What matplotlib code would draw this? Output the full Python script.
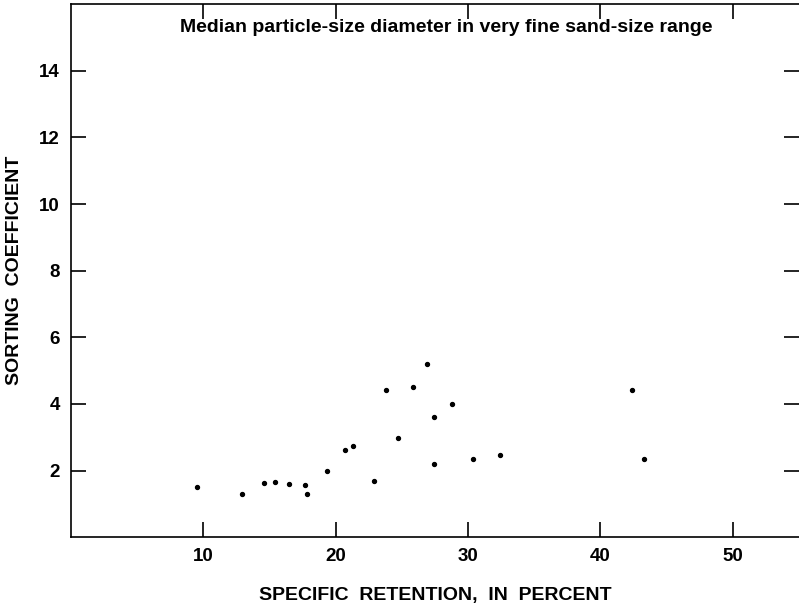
import matplotlib.pyplot as plt

# specific retention (percent) vs sorting coefficient
retention = [9.5, 12.9, 14.6, 15.4, 16.5, 17.7, 17.8, 19.3, 20.7, 21.3,
             22.9, 23.8, 24.7, 25.8, 26.9, 27.4, 27.4, 28.8, 30.4, 32.4,
             42.4, 43.3]
sorting = [1.50, 1.29, 1.63, 1.66, 1.59, 1.57, 1.30, 2.00, 2.61, 2.73,
           1.68, 4.43, 2.99, 4.50, 5.19, 3.62, 2.20, 4.00, 2.36, 2.47,
           4.43, 2.34]

xticks = [10, 20, 30, 40, 50]
yticks = [2, 4, 6, 8, 10, 12, 14]

plt.rcParams['font.family'] = ['Liberation Sans', 'DejaVu Sans']

fig = plt.figure(figsize=(7.99, 6.09), dpi=100)
ax = fig.add_axes([0.089, 0.118, 0.911, 0.875])

ax.scatter(retention, sorting, s=8, color='black', zorder=3)

ax.set_xlim(0, 55)
ax.set_ylim(0, 16)
ax.set_xticks(xticks)
ax.set_yticks(yticks)
ax.tick_params(direction='in', length=11, width=1.2, labelsize=13.5,
               top=True, right=True, pad=8)
for lab in ax.get_xticklabels() + ax.get_yticklabels():
    lab.set_fontweight('bold')

ax.spines['right'].set_visible(False)
for s in ['left', 'bottom', 'top']:
    ax.spines[s].set_linewidth(1.2)

ax.set_xlabel('SPECIFIC  RETENTION,  IN  PERCENT', fontsize=14,
              fontweight='bold', labelpad=16)
ax.set_ylabel('SORTING  COEFFICIENT', fontsize=14, fontweight='bold',
              labelpad=12)

ax.text(8.2, 15.3, 'Median particle-size diameter in very fine sand-size range',
        fontsize=14, fontweight='bold', va='center', ha='left')

fig.savefig('out.png', dpi=100)
